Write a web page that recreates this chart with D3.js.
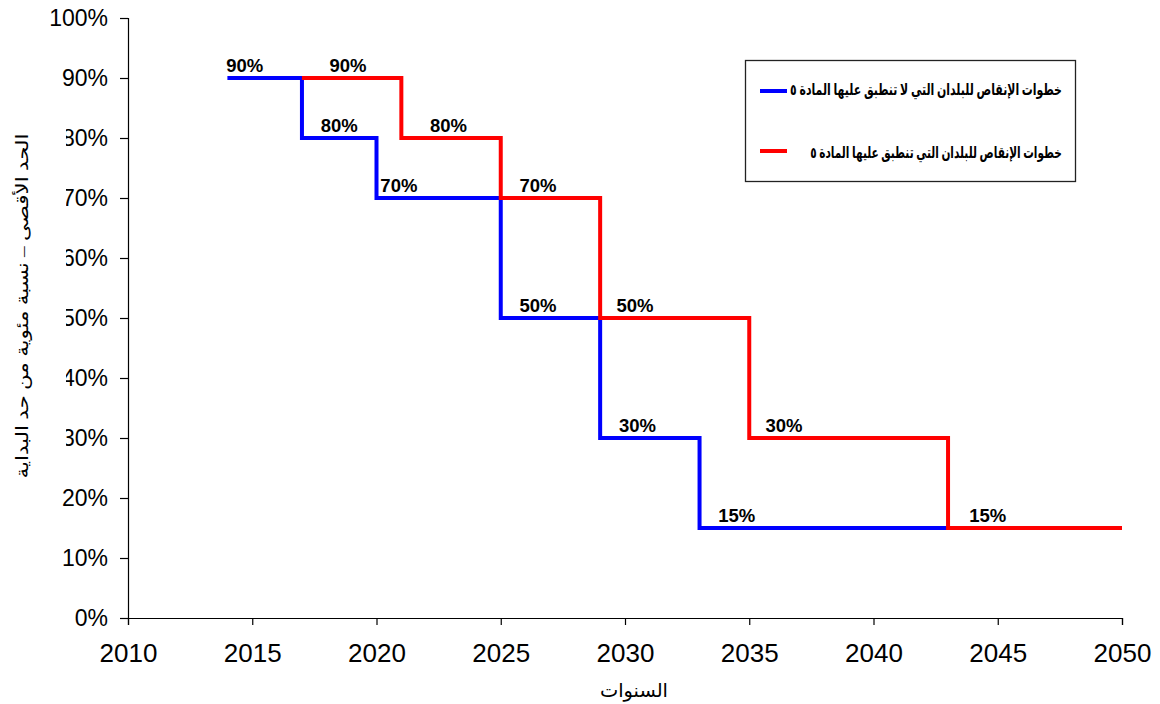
<!DOCTYPE html>
<html><head><meta charset="utf-8">
<script src="https://cdn.jsdelivr.net/npm/d3@7"></script>
<style>body{margin:0;background:#fff;} svg{display:block;}</style>
</head><body>
<svg id="c" width="1160" height="704"></svg>
<script>
// Data
const blueYears = [2014, 2017, 2020, 2025, 2029, 2033, 2043];
const blueValues = [90, 80, 70, 50, 30, 15, 15];
const redYears = [2017, 2021, 2025, 2029, 2035, 2043, 2050];
const redValues = [90, 80, 70, 50, 30, 15, 15];
const blueLabelYears = [2014.7, 2018.5, 2020.9, 2026.5, 2030.5, 2034.5];
const blueLabelValues = [90, 80, 70, 50, 30, 15];
const redLabelYears = [2018.85, 2022.9, 2026.5, 2030.4, 2036.4, 2044.6];
const redLabelValues = [90, 80, 70, 50, 30, 15];
const xTicks = [2010, 2015, 2020, 2025, 2030, 2035, 2040, 2045, 2050];
const yTicks = [0, 10, 20, 30, 40, 50, 60, 70, 80, 90, 100];
const legendLabels = ["خطوات الإنقاص للبلدان التي لا تنطبق عليها المادة ٥", "خطوات الإنقاص للبلدان التي تنطبق عليها المادة ٥"];
const xTitle = "السنوات";
const yTitle = "الحد الأقصى – نسبة مئوية من حد البداية";

const svg = d3.select("#c");
const x = d3.scaleLinear().domain([2010, 2050]).range([128, 1122]);
const y = d3.scaleLinear().domain([0, 100]).range([618, 18]);
const sans = "Arial, 'Liberation Sans', sans-serif";
const arab = "'Times New Roman', 'Liberation Serif', 'DejaVu Sans', serif";

function fitText(sel, target) {
  const w = sel.node().getComputedTextLength();
  return w > 0 ? target / w : 1;
}

// Axes
const xAxis = svg.append("g").attr("transform", "translate(0,618)")
  .call(d3.axisBottom(x).tickValues(xTicks).tickFormat(d3.format("d")).tickSize(7).tickPadding(19));
xAxis.selectAll("text").attr("font-size", 26).attr("font-family", sans).attr("fill", "#000");
const yAxis = svg.append("g").attr("transform", "translate(128,0)")
  .call(d3.axisLeft(y).tickValues(yTicks).tickFormat(d => d + "%").tickSize(8).tickPadding(12));
yAxis.selectAll("text").attr("font-size", 23).attr("font-family", sans).attr("fill", "#000");
svg.selectAll(".domain, .tick line").attr("stroke", "#000").attr("stroke-width", 1.2);

// White background behind y title (overlaps tick labels as in reference)
svg.append("rect").attr("x", 0).attr("y", 126).attr("width", 66).attr("height", 358).attr("fill", "#fff");
const yt = svg.append("text").attr("x", 0).attr("y", 0)
  .attr("text-anchor", "middle").attr("dominant-baseline", "middle")
  .attr("font-family", arab).attr("font-size", 17).attr("direction", "rtl").text(yTitle);
const ys = fitText(yt, 345);
yt.attr("transform", `translate(24,306) rotate(-90) scale(${ys},1)`);

const xt = svg.append("text").attr("x", 0).attr("y", 0).attr("text-anchor", "middle")
  .attr("font-family", arab).attr("font-size", 19).attr("direction", "rtl").text(xTitle);
xt.attr("transform", `translate(634,697) scale(${fitText(xt, 68)},1)`);

// Lines
const line = d3.line().x(d => x(d[0])).y(d => y(d[1])).curve(d3.curveStepAfter);
const blue = blueYears.map((yr, i) => [yr, blueValues[i]]);
const red = redYears.map((yr, i) => [yr, redValues[i]]);
svg.append("path").attr("d", line(blue)).attr("fill", "none").attr("stroke", "#0000ff").attr("stroke-width", 4);
svg.append("path").attr("d", line(red)).attr("fill", "none").attr("stroke", "#ff0000").attr("stroke-width", 4);

// Labels
function labels(ys, vs) {
  svg.append("g").selectAll("text").data(ys).join("text")
    .attr("x", d => x(d)).attr("y", (d, i) => y(vs[i]) - 6)
    .attr("text-anchor", "middle").attr("font-family", sans).attr("font-weight", "bold")
    .attr("font-size", 18.5).attr("fill", "#000").text((d, i) => vs[i] + "%");
}
labels(blueLabelYears, blueLabelValues);
labels(redLabelYears, redLabelValues);

// Legend
const lg = svg.append("g");
lg.append("rect").attr("x", 745.5).attr("y", 60.5).attr("width", 330).attr("height", 121)
  .attr("fill", "#fff").attr("stroke", "#222").attr("stroke-width", 1.3);
const lColors = ["#0000ff", "#ff0000"];
const lLineY = [91, 151];
const lTextY = [91, 154];
const lTextCx = [926, 936];
const lTextW = [272, 252];
legendLabels.forEach((t, i) => {
  lg.append("line").attr("x1", 760).attr("x2", 787).attr("y1", lLineY[i]).attr("y2", lLineY[i])
    .attr("stroke", lColors[i]).attr("stroke-width", 4);
  const tx = lg.append("text").attr("x", 0).attr("y", 0).attr("dominant-baseline", "middle")
    .attr("text-anchor", "middle").attr("direction", "rtl")
    .attr("font-family", arab).attr("font-weight", "bold").attr("font-size", 16).text(t);
  tx.attr("transform", `translate(${lTextCx[i]},${lTextY[i]}) scale(${fitText(tx, lTextW[i])},1)`);
});
</script>
</body></html>
